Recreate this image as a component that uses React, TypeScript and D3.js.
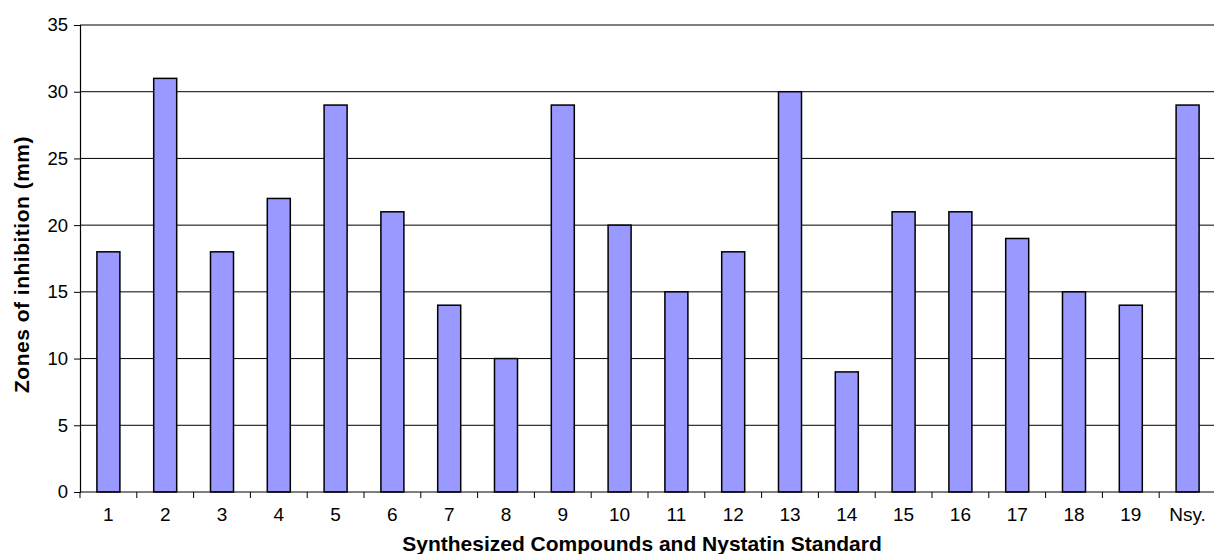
import React, { useEffect, useRef } from "react";
import * as d3 from "d3";

const categories = ["1", "2", "3", "4", "5", "6", "7", "8", "9", "10", "11", "12", "13", "14", "15", "16", "17", "18", "19", "Nsy."];
const zones = [18, 31, 18, 22, 29, 21, 14, 10, 29, 20, 15, 18, 30, 9, 21, 21, 19, 15, 14, 29];
const yTicks = [0, 5, 10, 15, 20, 25, 30, 35];

export default function App() {
  const ref = useRef<SVGSVGElement>(null);

  useEffect(() => {
    const width = 1214, height = 554;
    const left = 80, top = 25, bottom = 492, right = 1216;

    const svg = d3.select(ref.current);
    svg.selectAll("*").remove();
    svg.attr("width", width).attr("height", height);

    const x = d3.scaleBand()
      .domain(categories)
      .range([left, right])
      .paddingInner(0.595)
      .paddingOuter(0.2975);

    const y = d3.scaleLinear()
      .domain([0, 35])
      .range([bottom, top]);

    const font = "Arial, 'Liberation Sans', sans-serif";

    // gridlines
    svg.append("g")
      .selectAll("line")
      .data(yTicks.filter(t => t > 0))
      .join("line")
      .attr("x1", left)
      .attr("x2", right)
      .attr("y1", d => y(d))
      .attr("y2", d => y(d))
      .attr("stroke", "#000")
      .attr("stroke-width", 1);

    // bars
    svg.append("g")
      .selectAll("rect")
      .data(zones)
      .join("rect")
      .attr("x", (d, i) => x(categories[i]) as number)
      .attr("y", d => y(d))
      .attr("width", x.bandwidth())
      .attr("height", d => bottom - y(d))
      .attr("fill", "#9999ff")
      .attr("stroke", "#000")
      .attr("stroke-width", 1.5);

    // y axis
    const yAxis = svg.append("g")
      .attr("transform", `translate(${left},0)`)
      .call(d3.axisLeft(y).tickValues(yTicks).tickSize(6).tickPadding(6));
    yAxis.select(".domain").attr("stroke", "#000").attr("stroke-width", 1.2);
    yAxis.selectAll("text")
      .attr("font-family", font)
      .attr("font-size", 18.5)
      .attr("fill", "#000");

    // x axis
    const step = x.step();
    const xAxis = svg.append("g")
      .attr("transform", `translate(0,${bottom})`);
    xAxis.append("line")
      .attr("x1", left).attr("x2", right)
      .attr("stroke", "#000").attr("stroke-width", 1.2);
    xAxis.selectAll("line.tick")
      .data(d3.range(categories.length + 1))
      .join("line")
      .attr("class", "tick")
      .attr("x1", i => left + i * step)
      .attr("x2", i => left + i * step)
      .attr("y1", 0)
      .attr("y2", 6)
      .attr("stroke", "#000");
    xAxis.selectAll("text")
      .data(categories)
      .join("text")
      .attr("x", d => (x(d) as number) + x.bandwidth() / 2)
      .attr("y", 29)
      .attr("text-anchor", "middle")
      .attr("font-family", font)
      .attr("font-size", 19)
      .text(d => d);

    // axis titles
    svg.append("text")
      .attr("x", 642)
      .attr("y", 551)
      .attr("text-anchor", "middle")
      .attr("font-family", font)
      .attr("font-size", 21)
      .attr("font-weight", "bold")
      .text("Synthesized Compounds and Nystatin Standard");

    svg.append("text")
      .attr("transform", `translate(29,${(top + bottom) / 2 + 6}) rotate(-90)`)
      .attr("text-anchor", "middle")
      .attr("font-family", font)
      .attr("font-size", 21)
      .attr("letter-spacing", 0.5)
      .attr("font-weight", "bold")
      .text("Zones of inhibition (mm)");
  }, []);

  return (
    <svg ref={ref} style={{ position: "absolute", left: 0, top: 0, display: "block", background: "#fff" }} />
  );
}
